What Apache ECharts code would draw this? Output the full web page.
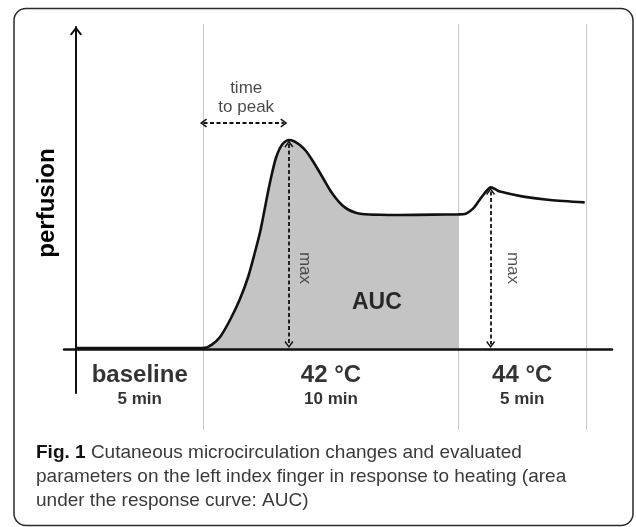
<!DOCTYPE html>
<html>
<head>
<meta charset="utf-8">
<script src="https://cdn.jsdelivr.net/npm/echarts@6/dist/echarts.min.js"></script>
<style>html,body{margin:0;padding:0;background:#fff}#chart{width:636px;height:527px}</style>
</head>
<body>
<div id="chart"></div>
<script>
// ---- data (time in min, perfusion in arbitrary units) ----
const curveTime  = [0, 2.5, 4.7, 5.06, 5.33, 5.65, 6.04, 6.43, 6.75, 7.02, 7.22, 7.37, 7.53, 7.69, 7.84, 8.0, 8.16, 8.35, 8.55, 8.78, 9.02, 9.25, 9.49, 9.73, 9.96, 10.2, 10.43, 10.67, 10.94, 11.22, 11.92, 12.7, 14.0, 15.0, 15.25, 15.58, 15.78, 15.97, 16.17, 16.26, 16.43, 16.63, 17.54, 18.59, 19.95];
const curveValue = [0.5, 0.5, 0.5, 0.6, 2.2, 6, 14.5, 25, 36, 48.5, 58.5, 68, 78.5, 88, 95.5, 100.5, 103.3, 104.5, 103.9, 102, 99, 94.75, 89.75, 84.5, 79.5, 75.25, 72, 69.75, 68.25, 67.5, 67.1, 67, 67.2, 67.3, 67.5, 70.3, 73.7, 77, 80, 80.8, 80, 78.7, 76.2, 74.5, 73.3];
const phaseNames     = ['baseline', '42 °C', '44 °C'];
const phaseDurations = ['5 min', '10 min', '5 min'];
const phaseStart     = [0, 5, 15];
const phaseEnd       = [5, 15, 20];
const aucWindow      = [5, 15];
const timeToPeakLevel = 113;
const maxLabelLevel   = 40.5;
const aucLabelAt      = [11.8, 23];

// ---- derived ----
const FONT = '"Liberation Sans", Arial, Helvetica, sans-serif';
const INK = '#000';
const curve = curveTime.map((t, i) => [t, curveValue[i]]);
const areaData = curve.filter(p => p[0] >= aucWindow[0] - 0.3 && p[0] <= aucWindow[1]);
function peakIn(a, b) {
  let best = null;
  curve.forEach(p => { if (p[0] >= a && p[0] <= b && (!best || p[1] > best[1])) best = p; });
  return best;
}
const peak42 = peakIn(phaseStart[1], phaseEnd[1]);
const peak44 = peakIn(phaseStart[2], phaseEnd[2]);
const chevron = 'path://M0,9 L7,0 L14,9 L12.2,10.4 L7,3.6 L1.8,10.4 Z';
const dashStyle = { color: '#111', width: 1.8, type: [4, 2.5] };

const xMin = -0.47, xMax = 21.02;
const txt = (o) => Object.assign({ fontFamily: FONT, color: INK, textBorderWidth: 0, textShadowBlur: 0 }, o);

const option = {
  animation: false,
  backgroundColor: '#fff',
  title: {
    left: 31, top: 436,
    text: '{b|Fig. 1} {n|Cutaneous microcirculation changes and evaluated}\n{n|parameters on the left index finger in response to heating (area}\n{n|under the response curve: AUC)}',
    textStyle: {
      fontWeight: 'normal', fontFamily: FONT, fontSize: 19, color: '#3a3a3a',
      rich: {
        b: { fontFamily: FONT, fontWeight: 'bold', fontSize: 19, color: '#111', lineHeight: 24 },
        n: { fontFamily: FONT, fontWeight: 'normal', fontSize: 19, color: '#3a3a3a', lineHeight: 24 }
      }
    }
  },
  graphic: [{
    type: 'rect', silent: true, z: -10,
    shape: { x: 14, y: 8.5, width: 619, height: 517, r: 12 },
    style: { fill: 'none', stroke: '#2a2a2a', lineWidth: 1.5 }
  }],
  grid: [
    { left: 64, right: 24, top: 27, bottom: 134 },
    { left: 64, right: 24, top: 24, bottom: 97 }
  ],
  xAxis: [
    { type: 'value', gridIndex: 0, min: xMin, max: xMax, z: 3,
      axisLine: { show: true, onZero: true, lineStyle: { color: '#111', width: 2.5 } },
      axisTick: { show: false }, axisLabel: { show: false }, splitLine: { show: false } },
    { type: 'value', gridIndex: 1, min: xMin, max: xMax, show: false }
  ],
  yAxis: [
    { type: 'value', gridIndex: 0, min: -22, max: 161, z: 3,
      name: 'perfusion', nameLocation: 'middle', nameRotate: 90, nameGap: 5,
      nameTextStyle: txt({ fontWeight: 'bold', fontSize: 24, padding: [0, 0, 0, 14] }),
      axisLine: { show: true, onZero: true, symbol: ['none', chevron], symbolSize: [12, 9], symbolOffset: [0, -4],
        lineStyle: { color: '#111', width: 2 } },
      axisTick: { show: false }, axisLabel: { show: false }, splitLine: { show: false } },
    { type: 'value', gridIndex: 1, min: -40.5, max: 162.5, show: false }
  ],
  series: [
    { // phase boundaries
      type: 'custom', xAxisIndex: 1, yAxisIndex: 1, z: 1, silent: true,
      data: phaseEnd.map(t => [t]),
      renderItem: function (params, api) {
        const cs = params.coordSys;
        const x = Math.round(api.coord([api.value(0), 0])[0]) + 0.5;
        return { type: 'line', shape: { x1: x, y1: cs.y, x2: x, y2: cs.y + cs.height },
                 style: { stroke: '#c8c8c8', lineWidth: 1 } };
      }
    },
    { // phase labels
      type: 'scatter', xAxisIndex: 1, yAxisIndex: 1, symbolSize: 0, z: 6, silent: true,
      data: phaseNames.map((n, i) => ({ value: [(phaseStart[i] + phaseEnd[i]) / 2, -18.5], name: n, dur: phaseDurations[i] })),
      label: {
        show: true, position: 'inside', color: INK, textBorderWidth: 0,
        formatter: p => '{a|' + p.data.name + '}\n{b|' + p.data.dur + '}',
        rich: {
          a: txt({ fontWeight: 'bold', fontSize: 24, lineHeight: 26, align: 'center' }),
          b: txt({ fontWeight: 'bold', fontSize: 17, lineHeight: 22, align: 'center' })
        }
      }
    },
    { // AUC area
      type: 'line', xAxisIndex: 0, yAxisIndex: 0, z: 2, silent: true,
      data: areaData, smooth: 0.25, showSymbol: false,
      lineStyle: { width: 0 }, areaStyle: { color: '#c4c4c4', opacity: 1, origin: 'auto' }
    },
    { // response curve
      type: 'line', xAxisIndex: 0, yAxisIndex: 0, z: 4, silent: true,
      data: curve, smooth: 0.25, showSymbol: false,
      lineStyle: { color: '#111', width: 2.6 },
      markLine: {
        silent: true, symbol: [chevron, chevron], symbolSize: [9, 7],
        label: { show: false }, lineStyle: dashStyle,
        data: [
          [{ coord: [phaseStart[1], timeToPeakLevel] }, { coord: [peak42[0] - 0.2, timeToPeakLevel] }],
          [{ coord: [peak42[0], peak42[1] - 2] }, { coord: [peak42[0], 2.2] }],
          [{ coord: [peak44[0], peak44[1] - 2] }, { coord: [peak44[0], 2.2] }]
        ]
      }
    },
    { // annotation texts
      type: 'scatter', xAxisIndex: 0, yAxisIndex: 0, symbolSize: 0, z: 6, silent: true, clip: false,
      data: [
        { value: [(phaseStart[1] + peak42[0]) / 2, timeToPeakLevel],
          label: txt({ show: true, position: 'top', distance: 6, formatter: 'time\nto peak',
                   fontSize: 17, lineHeight: 19, align: 'center', color: '#1a1a1a' }) },
        { value: [peak42[0], maxLabelLevel],
          label: txt({ show: true, position: 'inside', offset: [0, -16], rotate: -90, formatter: 'max',
                   fontSize: 17, color: '#2a2a2a' }) },
        { value: [peak44[0], maxLabelLevel],
          label: txt({ show: true, position: 'inside', offset: [0, -22], rotate: -90, formatter: 'max',
                   fontSize: 17, color: '#2a2a2a' }) },
        { value: aucLabelAt,
          label: txt({ show: true, position: 'inside', formatter: 'AUC',
                   fontWeight: 'bold', fontSize: 23 }) }
      ]
    }
  ]
};

const chart = echarts.init(document.getElementById('chart'), null, { renderer: 'canvas' });
chart.setOption(option);
</script>
</body>
</html>
